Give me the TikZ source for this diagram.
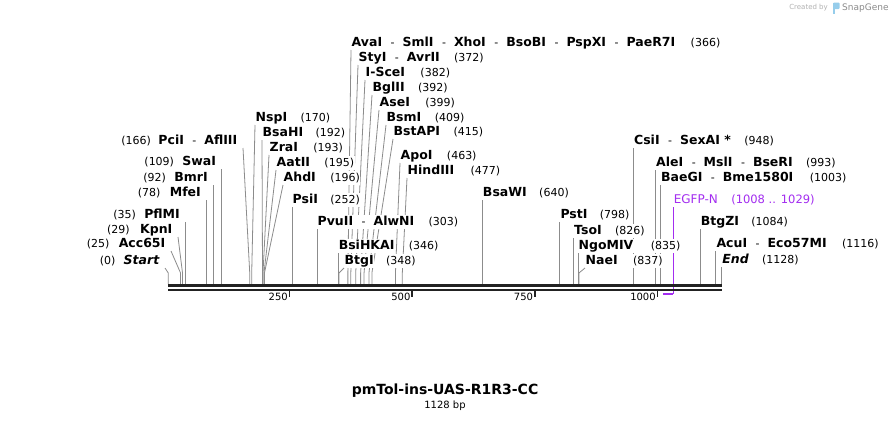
\documentclass[tikz,border=0pt]{standalone}
\usepackage{fontspec}
\setmainfont{DejaVu Sans}
\usetikzlibrary{positioning}
\pgfdeclarelayer{paper}
\pgfdeclarelayer{back}
\pgfsetlayers{paper,back,main}
\definecolor{cutgray}{RGB}{140,140,140}
\definecolor{spinecol}{RGB}{34,34,34}
\definecolor{primer}{RGB}{163,45,240}
\definecolor{logo}{RGB}{150,205,235}
\tikzset{
	lab/.style={fill=white,inner xsep=0.5pt,inner ysep=1pt,text height=9pt,text depth=2.5pt,font=\fontsize{11}{13}\selectfont},
	rlab/.style={lab,anchor=south west},
	llab/.style={lab,anchor=south east,execute at end node={\hspace{5pt}}},
	num/.style={lab},
	cut/.style={draw=cutgray,line width=0.8pt},
	spine/.style={draw=spinecol,line width=2.6pt},
	tick/.style={draw=spinecol,line width=1.8pt},
	ticklab/.style={font=\fontsize{10}{12}\selectfont,inner sep=1.5pt,anchor=north east},
	feat/.style={draw=primer,line width=1pt}
}
\newcommand{\X}[1]{168.3+0.4906*#1}
\newcommand{\enz}[1]{{\fontsize{12.5}{13}\selectfont\bfseries #1}}
\newcommand{\enzit}[1]{{\fontsize{12.5}{13}\selectfont\bfseries\itshape #1}}
\newcommand{\nxt}{\hspace{8.5pt}-\hspace{8pt}}

\begin{document}
\begin{tikzpicture}[x=1pt,y=-1pt]
	\begin{pgfonlayer}{paper}
		\fill[white] (0,0) rectangle (890,423);
	\end{pgfonlayer}
	\useasboundingbox (0,0) rectangle (890,423);

	% cut sites on the backbone
	\coordinate (sStart) at ({\X{0}},284);
	\coordinate (sAcc) at ({\X{25}},284);
	\coordinate (sKpn) at ({\X{29}},284);
	\coordinate (sPflM) at ({\X{35}},284);
	\coordinate (sMfe) at ({\X{78}},284);
	\coordinate (sBmr) at ({\X{92}},284);
	\coordinate (sSwa) at ({\X{109}},284);
	\coordinate (sPci) at ({\X{166}},284);
	\coordinate (sNsp) at ({\X{170}},284);
	\coordinate (sBsaH) at ({\X{192}},284);
	\coordinate (sZra) at ({\X{193}},284);
	\coordinate (sAat) at ({\X{195}},284);
	\coordinate (sAhd) at ({\X{196}},284);
	\coordinate (sPsi) at ({\X{252}},284);
	\coordinate (sPvu) at ({\X{303}},284);
	\coordinate (sBsiHKA) at ({\X{346}},284);
	\coordinate (sBtg) at ({\X{348}},284);
	\coordinate (sAva) at ({\X{366}},284);
	\coordinate (sSty) at ({\X{372}},284);
	\coordinate (sSce) at ({\X{382}},284);
	\coordinate (sBgl) at ({\X{392}},284);
	\coordinate (sAse) at ({\X{399}},284);
	\coordinate (sBsm) at ({\X{409}},284);
	\coordinate (sBstAP) at ({\X{415}},284);
	\coordinate (sApo) at ({\X{463}},284);
	\coordinate (sHind) at ({\X{477}},284);
	\coordinate (sBsaW) at ({\X{640}},284);
	\coordinate (sPst) at ({\X{798}},284);
	\coordinate (sTso) at ({\X{826}},284);
	\coordinate (sNgo) at ({\X{835}},284);
	\coordinate (sNae) at ({\X{837}},284);
	\coordinate (sCsi) at ({\X{948}},284);
	\coordinate (sAle) at ({\X{993}},284);
	\coordinate (sBaeG) at ({\X{1003}},284);
	\coordinate (sBtgZ) at ({\X{1084}},284);
	\coordinate (sAcu) at ({\X{1116}},284);
	\coordinate (sEnd) at ({\X{1128}},284);

	% labels left of their line
	\node[llab] (Start) at (165,268) {\enzit{Start}};
	\node[num,left=7pt of Start] (StartBp) {(0)};
	\node[llab] (Acc) at (171,251) {\enz{Acc65I}};
	\node[num,left=8pt of Acc] (AccBp) {(25)};
	\node[llab] (Kpn) at (178,237) {\enz{KpnI}};
	\node[num,left=9pt of Kpn] (KpnBp) {(29)};
	\node[llab] (PflM) at ({\X{35}},222) {\enz{PflMI}};
	\node[num,left=7pt of PflM] (PflMBp) {(35)};
	\node[llab] (Mfe) at ({\X{78}},200) {\enz{MfeI}};
	\node[num,left=8pt of Mfe] (MfeBp) {(78)};
	\node[llab] (Bmr) at ({\X{92}},185) {\enz{BmrI}};
	\node[num,left=7pt of Bmr] (BmrBp) {(92)};
	\node[llab] (Swa) at ({\X{109}},169) {\enz{SwaI}};
	\node[num,left=7pt of Swa] (SwaBp) {(109)};
	\node[llab] (Pci) at (243,148) {\enz{PciI}\nxt\enz{AflIII}};
	\node[num,left=6pt of Pci] (PciBp) {(166)};

	% labels right of their line
	\node[rlab] (Nsp) at (255,125) {\enz{NspI}};
	\node[num,right=12pt of Nsp] (NspBp) {(170)};
	\node[rlab] (BsaH) at (262,140) {\enz{BsaHI}};
	\node[num,right=11pt of BsaH] (BsaHBp) {(192)};
	\node[rlab] (Zra) at (269,155) {\enz{ZraI}};
	\node[num,right=14pt of Zra] (ZraBp) {(193)};
	\node[rlab] (Aat) at (276,170) {\enz{AatII}};
	\node[num,right=13pt of Aat] (AatBp) {(195)};
	\node[rlab] (Ahd) at (283,185) {\enz{AhdI}};
	\node[num,right=13pt of Ahd] (AhdBp) {(196)};
	\node[rlab] (Psi) at ({\X{252}},207) {\enz{PsiI}};
	\node[num,right=11pt of Psi] (PsiBp) {(252)};
	\node[rlab] (Pvu) at ({\X{303}},229) {\enz{PvuII}\nxt\enz{AlwNI}};
	\node[num,right=13pt of Pvu] (PvuBp) {(303)};
	\node[rlab] (BsiHKA) at ({\X{346}},253) {\enz{BsiHKAI}};
	\node[num,right=13pt of BsiHKA] (BsiHKABp) {(346)};
	\node[rlab] (Btg) at (344,268) {\enz{BtgI}};
	\node[num,right=11pt of Btg] (BtgBp) {(348)};
	\node[rlab] (Ava) at (351,50) {\enz{AvaI}\nxt\enz{SmlI}\nxt\enz{XhoI}\nxt\enz{BsoBI}\nxt\enz{PspXI}\nxt\enz{PaeR7I}};
	\node[num,right=14pt of Ava] (AvaBp) {(366)};
	\node[rlab] (Sty) at (358,65) {\enz{StyI}\nxt\enz{AvrII}};
	\node[num,right=13pt of Sty] (StyBp) {(372)};
	\node[rlab] (Sce) at (365,80) {\enz{I-SceI}};
	\node[num,right=14pt of Sce] (SceBp) {(382)};
	\node[rlab] (Bgl) at (372,95) {\enz{BglII}};
	\node[num,right=12pt of Bgl] (BglBp) {(392)};
	\node[rlab] (Ase) at (379,110) {\enz{AseI}};
	\node[num,right=14pt of Ase] (AseBp) {(399)};
	\node[rlab] (Bsm) at (386,125) {\enz{BsmI}};
	\node[num,right=12pt of Bsm] (BsmBp) {(409)};
	\node[rlab] (BstAP) at (393,139) {\enz{BstAPI}};
	\node[num,right=12pt of BstAP] (BstAPBp) {(415)};
	\node[rlab] (Apo) at (400,163) {\enz{ApoI}};
	\node[num,right=13pt of Apo] (ApoBp) {(463)};
	\node[rlab] (Hind) at (407,178) {\enz{HindIII}};
	\node[num,right=15pt of Hind] (HindBp) {(477)};
	\node[rlab] (BsaW) at ({\X{640}},200) {\enz{BsaWI}};
	\node[num,right=11pt of BsaW] (BsaWBp) {(640)};
	\node[rlab] (Pst) at ({\X{798}},222) {\enz{PstI}};
	\node[num,right=11pt of Pst] (PstBp) {(798)};
	\node[rlab] (Tso) at ({\X{826}},238) {\enz{TsoI}};
	\node[num,right=12pt of Tso] (TsoBp) {(826)};
	\node[rlab] (Ngo) at ({\X{835}},253) {\enz{NgoMIV}};
	\node[num,right=16pt of Ngo] (NgoBp) {(835)};
	\node[rlab] (Nae) at (585,268) {\enz{NaeI}};
	\node[num,right=14pt of Nae] (NaeBp) {(837)};
	\node[rlab] (Csi) at ({\X{948}},148) {\enz{CsiI}\nxt\enz{SexAI *}};
	\node[num,right=12pt of Csi] (CsiBp) {(948)};
	\node[rlab] (Ale) at ({\X{993}},170) {\enz{AleI}\nxt\enz{MslI}\nxt\enz{BseRI}};
	\node[num,right=12pt of Ale] (AleBp) {(993)};
	\node[rlab] (BaeG) at ({\X{1003}},185) {\enz{BaeGI}\nxt\enz{Bme1580I}};
	\node[num,right=15pt of BaeG] (BaeGBp) {(1003)};
	\node[rlab] (BtgZ) at ({\X{1084}},229) {\enz{BtgZI}};
	\node[num,right=11pt of BtgZ] (BtgZBp) {(1084)};
	\node[rlab] (Acu) at ({\X{1116}},251) {\enz{AcuI}\nxt\enz{Eco57MI}};
	\node[num,right=14pt of Acu] (AcuBp) {(1116)};
	\node[rlab] (End) at ({\X{1128}},267) {\enzit{End}};
	\node[num,right=12pt of End] (EndBp) {(1128)};

	% primer feature
	\coordinate (fA) at ({\X{1008}},294);
	\coordinate (fB) at ({\X{1029}},294);
	\node[rlab,text=primer,font=\fontsize{12}{13}\selectfont] (EGFP) at ({\X{1029}},207) {EGFP-N};
	\node[num,text=primer,font=\fontsize{11.5}{13}\selectfont,right=12pt of EGFP] (EGFPBp) {(1008 .. 1029)};

	\begin{pgfonlayer}{back}
		\draw[cut] (sStart) -- ++(0,-11) -- (Start.south east);
		\draw[cut] (sAcc) -- ++(0,-11) -- (Acc.south east);
		\draw[cut] (sKpn) -- ++(0,-11) -- (Kpn.south east);
		\draw[cut] (sPflM) -- ++(0,-11) -- (PflM.south east);
		\draw[cut] (sMfe) -- ++(0,-11) -- (Mfe.south east);
		\draw[cut] (sBmr) -- ++(0,-11) -- (Bmr.south east);
		\draw[cut] (sSwa) -- ++(0,-11) -- (Swa.south east);
		\draw[cut] (sPci) -- ++(0,-11) -- (Pci.south east);
		\draw[cut] (sNsp) -- ++(0,-11) -- (Nsp.south west);
		\draw[cut] (sBsaH) -- ++(0,-11) -- (BsaH.south west);
		\draw[cut] (sZra) -- ++(0,-11) -- (Zra.south west);
		\draw[cut] (sAat) -- ++(0,-11) -- (Aat.south west);
		\draw[cut] (sAhd) -- ++(0,-11) -- (Ahd.south west);
		\draw[cut] (sPsi) -- (Psi.south west);
		\draw[cut] (sPvu) -- (Pvu.south west);
		\draw[cut] (sBsiHKA) -- (BsiHKA.south west);
		\draw[cut] (sBtg) -- ++(0,-11) -- (Btg.south west);
		\draw[cut] (sAva) -- ++(0,-11) -- (Ava.south west);
		\draw[cut] (sSty) -- ++(0,-11) -- (Sty.south west);
		\draw[cut] (sSce) -- ++(0,-11) -- (Sce.south west);
		\draw[cut] (sBgl) -- ++(0,-11) -- (Bgl.south west);
		\draw[cut] (sAse) -- ++(0,-11) -- (Ase.south west);
		\draw[cut] (sBsm) -- ++(0,-11) -- (Bsm.south west);
		\draw[cut] (sBstAP) -- ++(0,-11) -- (BstAP.south west);
		\draw[cut] (sApo) -- ++(0,-11) -- (Apo.south west);
		\draw[cut] (sHind) -- ++(0,-11) -- (Hind.south west);
		\draw[cut] (sBsaW) -- (BsaW.south west);
		\draw[cut] (sPst) -- (Pst.south west);
		\draw[cut] (sTso) -- (Tso.south west);
		\draw[cut] (sNgo) -- (Ngo.south west);
		\draw[cut] (sNae) -- ++(0,-11) -- (Nae.south west);
		\draw[cut] (sCsi) -- (Csi.south west);
		\draw[cut] (sAle) -- (Ale.south west);
		\draw[cut] (sBaeG) -- (BaeG.south west);
		\draw[cut] (sBtgZ) -- (BtgZ.south west);
		\draw[cut] (sAcu) -- (Acu.south west);
		\draw[cut] (sEnd) -- (End.south west);
		\draw[feat] (EGFP.south west) -- (fB);
	\end{pgfonlayer}

	% backbone, two strands
	\coordinate (top0) at ({\X{0}},285.3);
	\coordinate (top1) at ({\X{1128}},285.3);
	\coordinate (bot0) at ({\X{0}},289.8);
	\coordinate (bot1) at ({\X{1128}},289.8);
	\draw[spine] (top0) -- (top1);
	\draw[spine] (bot0) -- (bot1);
	\draw[feat,line width=2pt] (fA) -- (fB);

	% ruler
	\coordinate (t250) at ({\X{250}-1.5},291);
	\coordinate (t500) at ({\X{500}-1.5},291);
	\coordinate (t750) at ({\X{750}-1.5},291);
	\coordinate (t1000) at ({\X{1000}-1.5},291);
	\draw[tick] (t250) -- ++(0,6);
	\draw[tick] (t500) -- ++(0,6);
	\draw[tick] (t750) -- ++(0,6);
	\draw[tick] (t1000) -- ++(0,6);
	\node[ticklab] (l250) at (t250) {250};
	\node[ticklab] (l500) at (t500) {500};
	\node[ticklab] (l750) at (t750) {750};
	\node[ticklab] (l1000) at (t1000) {1000};

	% name and size
	\node[font=\fontsize{14}{16}\selectfont\bfseries] (title) at (445,391) {pmTol-ins-UAS-R1R3-CC};
	\node[font=\fontsize{10}{12}\selectfont,below=-3.5pt of title] (size) {1128 bp};

	% watermark
	\node[font=\fontsize{7}{8}\selectfont,text=black!30,anchor=east,inner sep=0pt] (made) at (828,8) {Created by};
	\fill[logo,rounded corners=1pt] (833,2.5) rectangle (839.5,9);
	\fill[logo] (833,2.5) rectangle (835.3,13.5);
	\node[font=\fontsize{9}{10}\selectfont,text=black!45,anchor=west,inner sep=0pt] (snap) at (842,8) {SnapGene};
\end{tikzpicture}
\end{document}
